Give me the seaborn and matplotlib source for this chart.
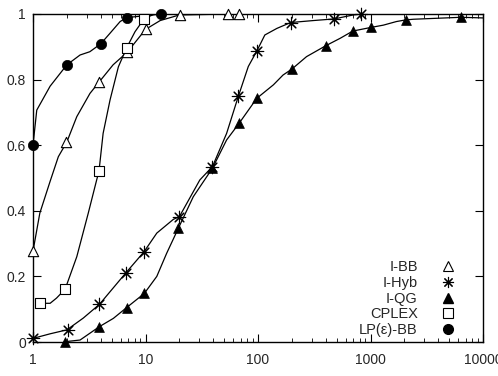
import numpy as np
import pandas as pd
import matplotlib
matplotlib.use("Agg")
import matplotlib.pyplot as plt
from matplotlib.lines import Line2D
import seaborn as sns

sns.set_style("ticks")
plt.rcParams['font.family'] = ['Liberation Sans', 'DejaVu Sans']

# curves (performance profile)
lp_x = [1, 1.08, 1.42, 2, 2.62, 3.2, 4, 4.8, 5.95, 6.8, 10, 14, 10000]
lp_y = [0.6, 0.707, 0.78, 0.845, 0.875, 0.885, 0.909, 0.94, 0.977, 0.989, 0.995, 1.0, 1.0]

ibb_x = [1, 1.15, 1.42, 1.68, 2, 2.45, 3.21, 3.9, 5.15, 6.9, 10, 13.5, 20, 54, 68, 10000]
ibb_y = [0.277, 0.393, 0.49, 0.565, 0.61, 0.687, 0.758, 0.794, 0.845, 0.884, 0.953, 0.98, 0.997, 1.0, 1.0, 1.0]

cplex_x = [1.15, 1.42, 1.62, 1.93, 2.45, 3.1, 3.68, 3.86, 4.2, 4.84, 5.74, 6.8, 8.07, 9.7, 12, 10000]
cplex_y = [0.118, 0.118, 0.134, 0.161, 0.26, 0.393, 0.494, 0.521, 0.636, 0.738, 0.839, 0.897, 0.946, 0.985, 1.0, 1.0]

hyb_x = [1, 1.42, 2, 2.8, 3.9, 6.7, 9.7, 12.6, 17.7, 20, 30.4, 39.4, 52.6, 67, 82, 97.6,
         115, 147, 195, 310, 475, 700, 823, 10000]
hyb_y = [0.011, 0.025, 0.037, 0.073, 0.115, 0.211, 0.275, 0.332, 0.374, 0.382, 0.494, 0.535,
         0.636, 0.75, 0.84, 0.887, 0.936, 0.956, 0.974, 0.98, 0.985, 0.997, 1.0, 1.0]

qg_x = [1.93, 2.62, 3.9, 5.18, 6.8, 9.76, 12.6, 15.4, 19.6, 26.6, 39.4, 52.6, 68, 97.6,
        137, 167, 200, 270, 399, 538, 696, 1007, 1300, 1700, 2054, 2400, 6400, 10000]
qg_y = [0.001, 0.006, 0.047, 0.072, 0.105, 0.148, 0.2, 0.27, 0.347, 0.443, 0.53, 0.616,
        0.667, 0.743, 0.784, 0.814, 0.832, 0.87, 0.903, 0.926, 0.948, 0.959, 0.966, 0.977,
        0.982, 0.984, 0.99, 0.988]

# marker positions
lp_mx = [1, 2, 4, 6.8, 13.7]
lp_my = [0.6, 0.845, 0.909, 0.989, 1.0]
ibb_mx = [1, 1.95, 3.89, 6.9, 10, 20.2, 53.7, 68]
ibb_my = [0.277, 0.61, 0.794, 0.884, 0.953, 0.997, 1.0, 1.0]
cplex_mx = [1.15, 1.93, 3.86, 6.8, 9.7]
cplex_my = [0.118, 0.161, 0.521, 0.897, 0.985]
hyb_mx = [1, 2.03, 3.89, 6.7, 9.7, 20, 39.4, 67, 97.6, 195, 475, 823]
hyb_my = [0.011, 0.037, 0.115, 0.211, 0.275, 0.382, 0.535, 0.751, 0.887, 0.974, 0.985, 1.0]
qg_mx = [1.93, 3.89, 6.8, 9.76, 19.6, 39.4, 68, 97.6, 200, 399, 696, 1007, 2054, 6400]
qg_my = [0.001, 0.047, 0.105, 0.148, 0.347, 0.53, 0.667, 0.743, 0.832, 0.903, 0.948, 0.959, 0.982, 0.99]

labels = ['I-BB', 'I-Hyb', 'I-QG', 'CPLEX', 'LP(ε)-BB']
curves = {'I-BB': (ibb_x, ibb_y), 'I-Hyb': (hyb_x, hyb_y), 'I-QG': (qg_x, qg_y),
          'CPLEX': (cplex_x, cplex_y), 'LP(ε)-BB': (lp_x, lp_y)}
marks = {'I-BB': (ibb_mx, ibb_my), 'I-Hyb': (hyb_mx, hyb_my), 'I-QG': (qg_mx, qg_my),
         'CPLEX': (cplex_mx, cplex_my), 'LP(ε)-BB': (lp_mx, lp_my)}

styles = {
    'I-BB': dict(marker='^', s=55, facecolor='white', edgecolor='black', linewidth=0.8),
    'I-Hyb': dict(marker=(8, 2, 0), s=80, color='black', linewidth=0.8),
    'I-QG': dict(marker='^', s=50, color='black', edgecolor='black', linewidth=0.5),
    'CPLEX': dict(marker='s', s=60, facecolor='white', edgecolor='black', linewidth=0.8),
    'LP(ε)-BB': dict(marker='o', s=55, color='black', edgecolor='black', linewidth=0.5),
}

fig = plt.figure(figsize=(4.98, 3.76), dpi=100)
ax = fig.add_axes([33 / 498, 34 / 376, 450 / 498, 328 / 376])

for name in labels:
    cx, cy = curves[name]
    df = pd.DataFrame({'x': cx, 'y': cy})
    sns.lineplot(data=df, x='x', y='y', ax=ax, color='black', linewidth=0.9,
                 sort=False, estimator=None)

for name in labels:
    mx, my = marks[name]
    df = pd.DataFrame({'x': mx, 'y': my})
    sns.scatterplot(data=df, x='x', y='y', ax=ax, zorder=3, clip_on=False, **styles[name])

ax.set_xscale('log')
ax.set_xlim(1, 10000)
ax.set_ylim(0, 1)
ax.set_xticks([1, 10, 100, 1000, 10000])
ax.set_xticklabels(['1', '10', '100', '1000', '10000'])
ax.set_yticks([0, 0.2, 0.4, 0.6, 0.8, 1])
ax.set_yticklabels(['0', '0.2', '0.4', '0.6', '0.8', '1'])
ax.set_xlabel('')
ax.set_ylabel('')
ax.tick_params(which='both', direction='in', top=True, right=True, labelsize=10, color='black')
ax.tick_params(which='major', length=6, width=0.8)
ax.tick_params(which='minor', length=3, width=0.6)
ax.tick_params(axis='x', pad=8)
ax.tick_params(axis='y', pad=5)
for sp in ax.spines.values():
    sp.set_linewidth(1.0)
    sp.set_color('black')
    sp.set_visible(True)

handles = [
    Line2D([], [], linestyle='none', marker='^', markersize=7, markerfacecolor='white',
           markeredgecolor='black', markeredgewidth=0.8),
    Line2D([], [], linestyle='none', marker=(8, 2, 0), markersize=8, color='black',
           markeredgewidth=0.8),
    Line2D([], [], linestyle='none', marker='^', markersize=7, color='black'),
    Line2D([], [], linestyle='none', marker='s', markersize=7, markerfacecolor='white',
           markeredgecolor='black', markeredgewidth=0.8),
    Line2D([], [], linestyle='none', marker='o', markersize=7, color='black'),
]
ax.legend(handles, labels, loc='lower right', markerfirst=False, frameon=False,
          fontsize=10.5, labelspacing=0.12, handlelength=1.0, handletextpad=1.6,
          borderaxespad=0.0, bbox_to_anchor=(0.952, -0.003))

fig.savefig('out.png', dpi=100)
